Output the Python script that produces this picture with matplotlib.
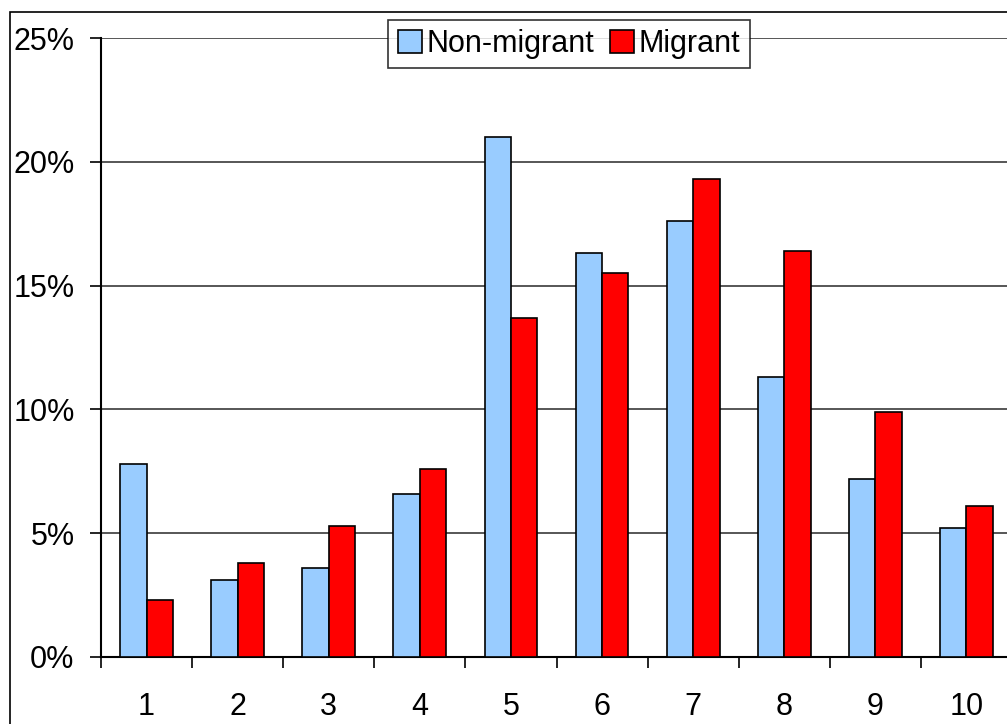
import numpy as np
import matplotlib.pyplot as plt
from matplotlib.patches import Rectangle

plt.rcParams['font.family'] = ['Liberation Sans', 'DejaVu Sans']

categories = ['1', '2', '3', '4', '5', '6', '7', '8', '9', '10']
non_migrant = [7.8, 3.1, 3.6, 6.6, 21.0, 16.3, 17.6, 11.3, 7.2, 5.2]
migrant = [2.3, 3.8, 5.3, 7.6, 13.7, 15.5, 19.3, 16.4, 9.9, 6.1]
y_ticks = [0, 5, 10, 15, 20, 25]

W, H = 1007, 724
fig = plt.figure(figsize=(W / 100, H / 100), dpi=100)

## outer chart frame, cropped on the right and bottom ##
fig.patches.append(Rectangle((10 / W, -0.1), 1.2, 1 - 12 / H + 0.1,
                             transform=fig.transFigure, fill=False,
                             edgecolor='black', linewidth=1.2))

ax = fig.add_axes([101 / W, 1 - 657 / H, 911 / W, (657 - 38) / H])

x = np.arange(len(categories))
bw = 0.29
b1 = ax.bar(x - bw / 2, non_migrant, bw, color='#99ccff', edgecolor='black',
            linewidth=1.2, label='Non-migrant', zorder=3)
b2 = ax.bar(x + bw / 2, migrant, bw, color='#ff0000', edgecolor='black',
            linewidth=1.2, label='Migrant', zorder=3)

ax.set_xlim(-0.5, len(categories) - 0.5)
ax.set_ylim(0, 25)
ax.set_yticks(y_ticks)
ax.set_yticklabels([f'{v}%' for v in y_ticks])
ax.yaxis.grid(True, color='#3a3a3a', linewidth=1.2, zorder=0)

ax.set_xticks(x)
ax.set_xticklabels(categories)
ax.set_xticks(np.arange(len(categories) + 1) - 0.5, minor=True)
ax.tick_params(axis='x', which='major', length=0, pad=25, labelsize=22)
ax.tick_params(axis='x', which='minor', length=8, width=1.2, direction='out')
ax.tick_params(axis='y', length=8, width=1.2, pad=11, labelsize=22)

for s in ['top', 'right']:
    ax.spines[s].set_visible(False)
ax.spines['left'].set_linewidth(1.5)
ax.spines['bottom'].set_linewidth(1.5)

leg = fig.legend(handles=[b1, b2], loc='center', bbox_to_anchor=(569 / W, 1 - 44 / H),
                 ncol=2, fontsize=22, frameon=True, fancybox=False,
                 edgecolor='black', handlelength=0.8, handleheight=0.8,
                 handletextpad=0.15, columnspacing=0.5, borderpad=0.3,
                 borderaxespad=0)
leg.get_frame().set_linewidth(1.2)

fig.savefig('out.png', dpi=100)
